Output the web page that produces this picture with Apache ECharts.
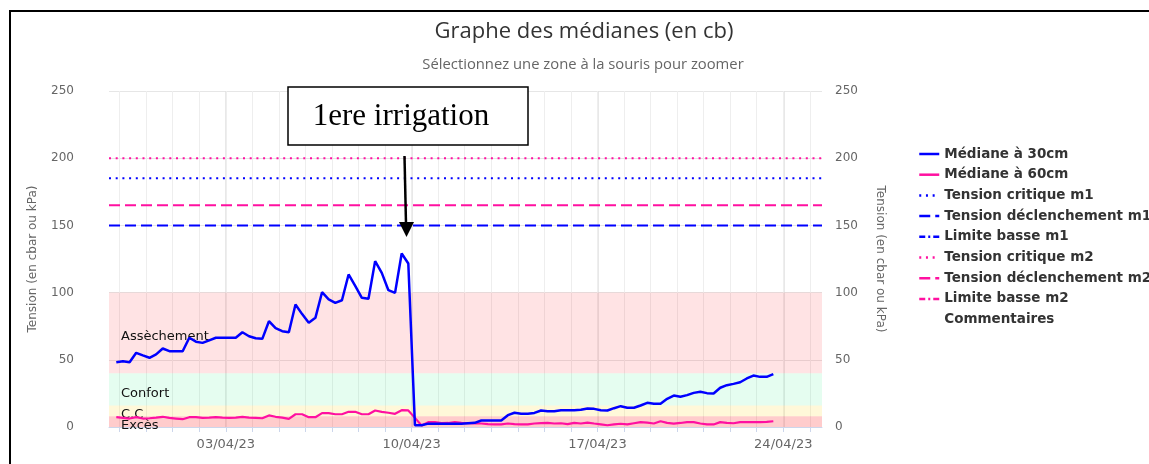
<!DOCTYPE html>
<html>
<head>
<meta charset="utf-8">
<script src="https://cdn.jsdelivr.net/npm/echarts@6/dist/echarts.min.js"></script>
<style>
html, body { margin: 0; padding: 0; background: #fff; }
#main { width: 1149px; height: 464px; }
</style>
</head>
<body>
<div id="main"></div>
<script>
// releves toutes les 6h
var times = [
'2023-03-29 21:00',
'2023-03-30 03:00','2023-03-30 09:00','2023-03-30 15:00','2023-03-30 21:00',
'2023-03-31 03:00','2023-03-31 09:00','2023-03-31 15:00','2023-03-31 21:00',
'2023-04-01 03:00','2023-04-01 09:00','2023-04-01 15:00','2023-04-01 21:00',
'2023-04-02 03:00','2023-04-02 09:00','2023-04-02 15:00','2023-04-02 21:00',
'2023-04-03 03:00','2023-04-03 09:00','2023-04-03 15:00','2023-04-03 21:00',
'2023-04-04 03:00','2023-04-04 09:00','2023-04-04 15:00','2023-04-04 21:00',
'2023-04-05 03:00','2023-04-05 09:00','2023-04-05 15:00','2023-04-05 21:00',
'2023-04-06 03:00','2023-04-06 09:00','2023-04-06 15:00','2023-04-06 21:00',
'2023-04-07 03:00','2023-04-07 09:00','2023-04-07 15:00','2023-04-07 21:00',
'2023-04-08 03:00','2023-04-08 09:00','2023-04-08 15:00','2023-04-08 21:00',
'2023-04-09 03:00','2023-04-09 09:00','2023-04-09 15:00','2023-04-09 21:00',
'2023-04-10 03:00','2023-04-10 09:00','2023-04-10 15:00','2023-04-10 21:00',
'2023-04-11 03:00','2023-04-11 09:00','2023-04-11 15:00','2023-04-11 21:00',
'2023-04-12 03:00','2023-04-12 09:00','2023-04-12 15:00','2023-04-12 21:00',
'2023-04-13 03:00','2023-04-13 09:00','2023-04-13 15:00','2023-04-13 21:00',
'2023-04-14 03:00','2023-04-14 09:00','2023-04-14 15:00','2023-04-14 21:00',
'2023-04-15 03:00','2023-04-15 09:00','2023-04-15 15:00','2023-04-15 21:00',
'2023-04-16 03:00','2023-04-16 09:00','2023-04-16 15:00','2023-04-16 21:00',
'2023-04-17 03:00','2023-04-17 09:00','2023-04-17 15:00','2023-04-17 21:00',
'2023-04-18 03:00','2023-04-18 09:00','2023-04-18 15:00','2023-04-18 21:00',
'2023-04-19 03:00','2023-04-19 09:00','2023-04-19 15:00','2023-04-19 21:00',
'2023-04-20 03:00','2023-04-20 09:00','2023-04-20 15:00','2023-04-20 21:00',
'2023-04-21 03:00','2023-04-21 09:00','2023-04-21 15:00','2023-04-21 21:00',
'2023-04-22 03:00','2023-04-22 09:00','2023-04-22 15:00','2023-04-22 21:00',
'2023-04-23 03:00','2023-04-23 09:00','2023-04-23 15:00'
]

var median30 = [
48.2,
49, 48.2, 55.2, 53.3,
51.5, 54, 58.4, 56.4,
56.4, 56.4, 66.4, 63.5,
62.6, 64.5, 66.4, 66.4,
66.4, 66.4, 70.5, 67.5,
66, 65.6, 78.7, 73.5,
71.3, 70.5, 91.1, 84,
77.5, 81.2, 100.3, 94.9,
92.4, 94.3, 113.5, 105,
96.1, 95.4, 123.4, 114.7,
101.8, 99.8, 129.1, 121.7,
1.3, 1.3, 2.5, 2.5,
2.5, 2.5, 2.5, 2.5,
2.8, 3.1, 4.8, 4.8,
4.8, 4.8, 8.8, 10.6,
9.8, 9.8, 10.5, 12.3,
11.8, 11.8, 12.5, 12.5,
12.5, 12.8, 13.8, 13.5,
12.5, 12.3, 14, 15.5,
14.3, 14.3, 16, 18,
17.3, 17.3, 21, 23.4,
22.5, 23.7, 25.4, 26.2,
25.2, 24.9, 29.2, 31.1,
32.1, 33.3, 36.1, 38.3,
37.3, 37.3, 39.3
]

var median60 = [
7.3,
6.8, 6.3, 7.3, 6.3,
6.5, 7, 7.6, 6.8,
6.3, 5.8, 7.3, 7.3,
6.8, 7, 7.3, 7,
6.8, 7, 7.6, 7,
6.8, 6.5, 8.6, 7.6,
7, 6.1, 9.5, 9.5,
7.3, 7.3, 10.3, 10.3,
9.5, 9.5, 11.3, 11.3,
9.5, 9.5, 12.3, 11.3,
10.6, 9.8, 12.5, 12.3,
6.8, 1.1, 3.6, 3.6,
2.9, 3, 3.6, 3.1,
2.8, 2.6, 2.6, 2.2,
1.9, 1.9, 2.6, 2.2,
1.9, 1.9, 2.6, 2.9,
3, 2.6, 2.8, 2.2,
3.1, 2.6, 3.3, 2.6,
2, 1.3, 1.9, 2.4,
1.9, 2.8, 3.6, 3.2,
2.6, 4.3, 3.1, 2.5,
3, 3.6, 3.6, 2.6,
1.9, 1.9, 3.6, 3.1,
2.8, 3.6, 3.6, 3.6,
3.6, 3.8, 4.3
]

// seuils m1 / m2
var tensionCritique = [185, 200]
var tensionDeclenchement = [150, 165]

// zones
var zoneNames = ['Excès', 'C.C', 'Confort', 'Assèchement']
var zoneBounds = [0, 8, 16, 40, 100]
var zoneColors = ['rgba(255,0,0,0.2)', 'rgba(255,205,0,0.15)', 'rgba(0,235,110,0.1)', 'rgba(255,0,10,0.11)']

var xMin = '2023-03-29 14:24'
var xMax = '2023-04-25 11:00'
var weekTicks = ['2023-04-03', '2023-04-10', '2023-04-17', '2023-04-24']
var dayTicks = [
'2023-03-30','2023-03-31','2023-04-01','2023-04-02','2023-04-03','2023-04-04','2023-04-05',
'2023-04-06','2023-04-07','2023-04-08','2023-04-09','2023-04-10','2023-04-11','2023-04-12',
'2023-04-13','2023-04-14','2023-04-15','2023-04-16','2023-04-17','2023-04-18','2023-04-19',
'2023-04-20','2023-04-21','2023-04-22','2023-04-23','2023-04-24','2023-04-25'
]

var blue = '#0000ff'
var pink = '#ff10a0'
var font = 'DejaVu Sans'

function t(s) {
  var p = s.split(/[- :]/)
  return new Date(+p[0], +p[1] - 1, +p[2], +(p[3] || 0), +(p[4] || 0)).getTime()
}

function pairs(xs, ys) {
  return xs.map(function (x, i) { return [t(x), ys[i]] })
}

function flat(v) {
  return [[t(xMin), v], [t(xMax), v]]
}

function pad(n) {
  return (n < 10 ? '0' : '') + n
}

function fmtDate(v) {
  var d = new Date(v)
  return pad(d.getDate()) + '/' + pad(d.getMonth() + 1) + '/' + pad(d.getFullYear() % 100)
}

var bands = []
for (var i = 0; i < zoneNames.length; i++) {
  bands.push([
    { yAxis: zoneBounds[i], name: zoneNames[i], itemStyle: { color: zoneColors[i] } },
    { yAxis: zoneBounds[i + 1] }
  ])
}

var legendNames = ['Médiane à 30cm', 'Médiane à 60cm', 'Tension critique m1', 'Tension déclenchement m1',
  'Limite basse m1', 'Tension critique m2', 'Tension déclenchement m2', 'Limite basse m2', 'Commentaires']

var dotted = [2, 4.7]
var dashed = [11, 5]
var dashDot = [6, 3, 2, 3]

function lineSeries(name, data, color, width, type, z) {
  return {
    name: name,
    type: 'line',
    data: data,
    symbol: 'none',
    z: z,
    lineStyle: { color: color, width: width, type: type },
    itemStyle: { color: color }
  }
}

var chart = echarts.init(document.getElementById('main'), null, { renderer: 'canvas' })

var option = {
  animation: false,
  textStyle: { fontFamily: font },
  title: [
    { text: 'Graphe des médianes (en cb)', left: 579, top: 16, textAlign: 'center',
      textStyle: { fontFamily: 'Open Sans', fontSize: 22, fontWeight: 'normal', color: '#333' } },
    { text: 'Sélectionnez une zone à la souris pour zoomer', left: 578, top: 52, textAlign: 'center',
      textStyle: { fontFamily: 'Open Sans', fontSize: 14.8, fontWeight: 'normal', color: '#666' } }
  ],
  legend: {
    orient: 'vertical',
    left: 913,
    top: 142,
    itemWidth: 20,
    itemHeight: 14,
    itemGap: 6.7,
    itemStyle: { opacity: 0 },
    lineStyle: { width: 2.5 },
    textStyle: { fontFamily: font, fontSize: 13.5, fontWeight: 'bold', color: '#333' },
    data: legendNames
  },
  grid: { left: 109, right: 327, top: 91, bottom: 37 },
  xAxis: [
    {
      type: 'value',
      min: t(xMin),
      max: t(xMax),
      axisLine: { show: true, lineStyle: { color: '#ccd6eb' } },
      axisTick: { show: true, length: 5, lineStyle: { color: '#ccd6eb' }, customValues: weekTicks.map(t) },
      axisLabel: { customValues: weekTicks.map(t), formatter: fmtDate, color: '#666', fontSize: 13, margin: 11, fontFamily: font },
      splitLine: { show: true, lineStyle: { color: '#e0e0e0', width: 1.5 } }
    },
    {
      type: 'value',
      min: t(xMin),
      max: t(xMax),
      position: 'bottom',
      axisLine: { show: false },
      axisTick: { show: true, length: 5, lineStyle: { color: '#ccd6eb' }, customValues: dayTicks.map(t) },
      axisLabel: { show: false },
      splitLine: { show: true, lineStyle: { color: '#eeeeee', width: 1 } }
    }
  ],
  yAxis: [
    {
      type: 'value',
      min: 0,
      max: 250,
      interval: 50,
      name: 'Tension (en cbar ou kPa)',
      nameLocation: 'middle',
      nameGap: 70,
      nameTextStyle: { color: '#666', fontSize: 12, fontFamily: font },
      axisLine: { show: false },
      axisTick: { show: false },
      axisLabel: { color: '#666', fontSize: 12, margin: 35, fontFamily: font },
      splitLine: { lineStyle: { color: '#e6e6e6' } }
    },
    {
      type: 'value',
      min: 0,
      max: 250,
      interval: 50,
      position: 'right',
      name: 'Tension (en cbar ou kPa)',
      nameLocation: 'middle',
      nameGap: 52,
      nameRotate: -90,
      nameTextStyle: { color: '#666', fontSize: 12, fontFamily: font },
      axisLine: { show: false },
      axisTick: { show: false },
      axisLabel: { color: '#666', fontSize: 12, margin: 13, fontFamily: font },
      splitLine: { show: false }
    }
  ],
  series: [
    {
      name: 'zones',
      type: 'line',
      data: [],
      z: 1,
      markArea: {
        silent: true,
        label: { show: true, position: 'insideLeft', distance: 12, offset: [0, 4], color: '#111', fontSize: 13, fontFamily: font },
        data: bands
      }
    },
    lineSeries('Tension critique m2', flat(tensionCritique[1]), pink, 2, dotted, 3),
    lineSeries('Tension critique m1', flat(tensionCritique[0]), blue, 2, dotted, 3),
    lineSeries('Tension déclenchement m2', flat(tensionDeclenchement[1]), pink, 2, dashed, 3),
    lineSeries('Tension déclenchement m1', flat(tensionDeclenchement[0]), blue, 2, dashed, 3),
    lineSeries('Limite basse m1', [], blue, 2, dashDot, 3),
    lineSeries('Limite basse m2', [], pink, 2, dashDot, 3),
    lineSeries('Médiane à 60cm', pairs(times, median60), pink, 2.2, 'solid', 4),
    lineSeries('Médiane à 30cm', pairs(times, median30), blue, 2.5, 'solid', 5),
    { name: 'Commentaires', type: 'scatter', data: [] }
  ],
  graphic: [
    { type: 'rect', shape: { x: 10, y: 11, width: 1200, height: 520 }, style: { fill: null, stroke: '#000', lineWidth: 2 }, silent: true, z: 100 },
    { type: 'rect', shape: { x: 288, y: 87, width: 240, height: 58 }, style: { fill: '#fff', stroke: '#000', lineWidth: 1.5 }, z: 100 },
    { type: 'text', x: 401, y: 117, style: { text: '1ere irrigation', font: '31px "Liberation Serif"', fill: '#000', align: 'center', verticalAlign: 'middle' }, z: 101 },
    { type: 'line', shape: { x1: 404.5, y1: 156, x2: 406, y2: 224 }, style: { stroke: '#000', lineWidth: 2.5 }, z: 100 },
    { type: 'polygon', shape: { points: [[399, 222], [414, 222], [406.5, 237]] }, style: { fill: '#000' }, z: 100 }
  ]
}

chart.setOption(option)
</script>
</body>
</html>
